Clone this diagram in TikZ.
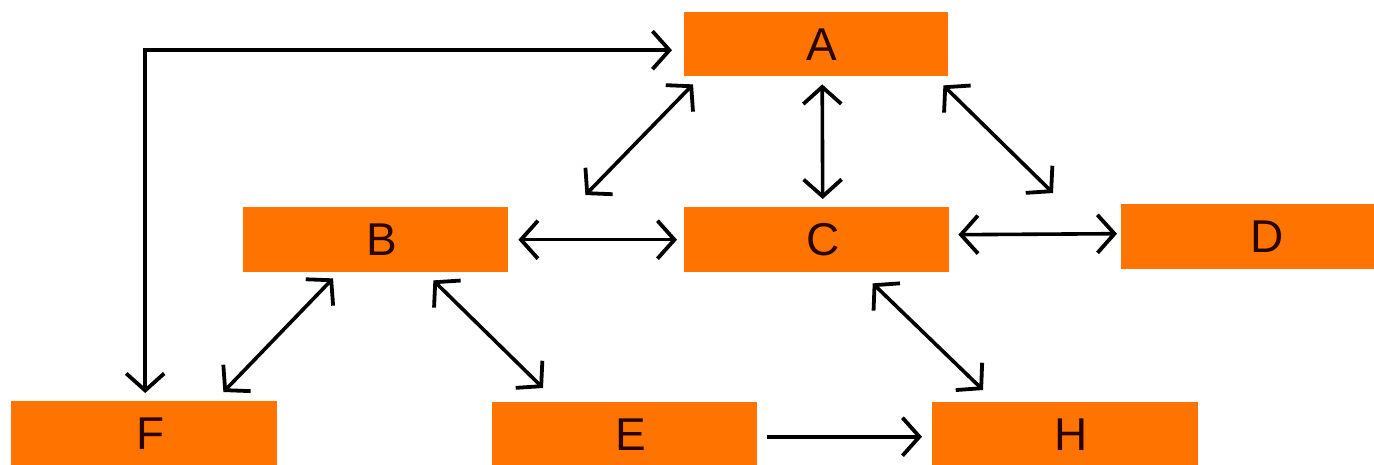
\documentclass[tikz,border=0pt]{standalone}
\usepackage{fontspec}
\setmainfont{Liberation Sans}
\usetikzlibrary{arrows.meta}
\definecolor{boxorange}{RGB}{255,115,0}
\definecolor{txt}{RGB}{40,5,0}
\begin{document}
\begin{tikzpicture}[x=1pt,y=-1pt,
  >={Straight Barb[length=17pt,width=38pt,line width=3.8pt]},
  box/.style={fill=boxorange,draw=none,anchor=north west,inner sep=0pt,
    text=txt,font=\fontsize{46}{50}\selectfont},
  conn/.style={line width=3.6pt,black},
  dbl/.style={conn,<->},
  sgl/.style={conn,->}]
\useasboundingbox (0,0) rectangle (1374,465);
\fill[white] (0,0) rectangle (1374,465);
\begin{scope}
\clip (0,0) rectangle (1374,465);
\node[box,minimum width=264pt,minimum height=64pt] (A) at (684,12) {\hspace*{12pt}A};
\node[box,minimum width=265pt,minimum height=65pt] (B) at (243,207) {\hspace*{12pt}B};
\node[box,minimum width=265pt,minimum height=65pt] (C) at (684,207) {\hspace*{12pt}C};
\node[box,minimum width=280pt,minimum height=65pt] (D) at (1121,204) {\hspace*{12pt}D};
\node[box,minimum width=266pt,minimum height=65pt] (F) at (11,401) {\hspace*{12pt}F};
\node[box,minimum width=265pt,minimum height=65pt] (E) at (492,402) {\hspace*{12pt}E};
\node[box,minimum width=266pt,minimum height=65pt] (H) at (932,402) {\hspace*{12pt}H};
\end{scope}
% connectors
\draw[dbl] ([shift={(-12,6)}]A.west) -| ([shift={(1,-8)}]F.north);
\draw[dbl] ([shift={(9,8)}]A.south west) -- ([shift={(77,-12)}]B.north east);
\draw[dbl] ([shift={(6,8)}]A.south) -- ([shift={(6,-8)}]C.north);
\draw[dbl] ([shift={(-5,9)}]A.south east) -- ([shift={(-68,-11)}]D.north west);
\draw[dbl] ([shift={(10,0)}]B.east) -- ([shift={(-7,0)}]C.west);
\draw[dbl] ([shift={(9,-5)}]C.east) -- ([shift={(-4,-3)}]D.west);
\draw[dbl] ([shift={(90,6)}]B.south west) -- ([shift={(-54,-9)}]F.north east);
\draw[dbl] ([shift={(-75,8)}]B.south east) -- ([shift={(51,-14)}]E.north west);
\draw[dbl] ([shift={(56,11)}]C.south) -- ([shift={(51,-12)}]H.north west);
\draw[sgl] ([shift={(10,2)}]E.east) -- ([shift={(-10,2)}]H.west);
\end{tikzpicture}
\end{document}
